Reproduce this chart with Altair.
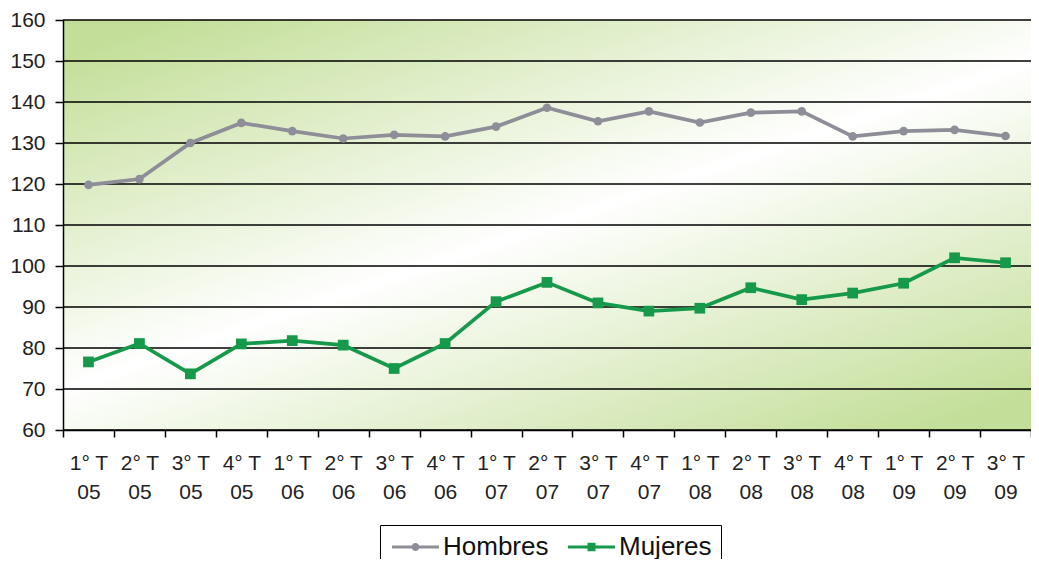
import altair as alt
import pandas as pd

quarters = ["1° T", "2° T", "3° T", "4° T"] * 4 + ["1° T", "2° T", "3° T"]
years = ["05"] * 4 + ["06"] * 4 + ["07"] * 4 + ["08"] * 4 + ["09"] * 3
hombres = [119.8, 121.2, 130.0, 134.9, 132.9, 131.1, 132.0, 131.6, 134.0, 138.6,
           135.3, 137.7, 135.0, 137.4, 137.7, 131.6, 132.9, 133.2, 131.7]
mujeres = [76.6, 81.1, 73.7, 81.0, 81.8, 80.7, 75.0, 81.1, 91.3, 96.0,
           91.0, 89.0, 89.7, 94.7, 91.8, 93.4, 95.8, 102.0, 100.8]
y_ticks = [60, 70, 80, 90, 100, 110, 120, 130, 140, 150, 160]
series = ["Hombres", "Mujeres"]
colors = ["#8e8e98", "#16994a"]

cats = [f"{q}|{y}" for q, y in zip(quarters, years)]
rows = []
for c, h, m in zip(cats, hombres, mujeres):
    rows.append({"cat": c, "serie": "Hombres", "valor": h})
    rows.append({"cat": c, "serie": "Mujeres", "valor": m})
df = pd.DataFrame(rows)
grid_df = pd.DataFrame({"valor": y_ticks})

W, H = 968, 410
FONT = "Liberation Sans"

xenc = alt.X(
    "cat:N",
    sort=cats,
    bandPosition=0.5,
    scale=alt.Scale(type="band", paddingInner=0, paddingOuter=0),
    axis=alt.Axis(
        title=None, labelAngle=0, tickBand="extent", labelExpr="split(datum.label, '|')",
        labelFontSize=21, labelColor="#222222", labelFont=FONT, labelLineHeight=29,
        labelPadding=15, tickSize=7, tickColor="#000000", tickWidth=1.5,
        domainColor="#000000", domainWidth=1.5, grid=False, zindex=2,
    ),
)
yscale = alt.Scale(domain=[60, 160], nice=False, zero=False)
yaxis = alt.Axis(
    title=None, values=y_ticks, labelFontSize=21, labelColor="#222222",
    labelFont=FONT, labelPadding=10, tickSize=8, tickColor="#000000", tickWidth=1.5,
    domainColor="#000000", domainWidth=1.5, grid=False, zindex=2,
)
yenc = alt.Y("valor:Q", scale=yscale, axis=yaxis)
cscale = alt.Scale(domain=series, range=colors)

bg = alt.Chart(pd.DataFrame({"a": [0]})).mark_rect(
    fill=alt.LinearGradient(
        gradient="linear", x1=0.1, y1=0, x2=0.9, y2=1,
        stops=[alt.GradientStop(offset=0, color="#c3de98"),
               alt.GradientStop(offset=0.5, color="#ffffff"),
               alt.GradientStop(offset=1, color="#c3de98")],
    )
).encode(x=alt.value(0), x2=alt.value(W), y=alt.value(0), y2=alt.value(H))

grid = alt.Chart(grid_df).mark_rule(color="#000000", strokeWidth=1.5).encode(
    y=alt.Y("valor:Q", scale=yscale, axis=yaxis)
)

lines = alt.Chart(df).mark_line(strokeWidth=3.7).encode(
    x=xenc, y=yenc, color=alt.Color("serie:N", scale=cscale, legend=None),
    detail="serie:N",
)

pts_h = alt.Chart(df).transform_filter(alt.datum.serie == "Hombres").mark_point(
    filled=True, opacity=1, shape="circle", size=75
).encode(x=xenc, y=yenc, color=alt.Color("serie:N", scale=cscale, legend=None))

pts_m = alt.Chart(df).transform_filter(alt.datum.serie == "Mujeres").mark_point(
    filled=True, opacity=1, shape="square", size=115
).encode(x=xenc, y=yenc, color=alt.Color("serie:N", scale=cscale, legend=None))

circ = ("M-1,-0.15 L3.7,-0.15 L3.7,0.15 L-1,0.15 Z "
        "M0.95,0 A0.4,0.4 0 1 1 1.75,0 A0.4,0.4 0 1 1 0.95,0 Z")
sq = ("M-1,-0.15 L3.7,-0.15 L3.7,0.15 L-1,0.15 Z "
      "M0.95,-0.42 L1.75,-0.42 L1.75,0.42 L0.95,0.42 Z")

legend_opts = dict(
    title=None, orient="none", direction="horizontal", legendX=317, legendY=505,
    labelFontSize=26, labelFont=FONT, labelColor="#111111", symbolSize=400,
    symbolStrokeWidth=0, columnPadding=16, labelOffset=28, padding=9,
    strokeColor="#000000", symbolOpacity=1,
)

leg = alt.Chart(df).mark_point(filled=True, size=0, strokeWidth=0).encode(
    x=xenc, y=yenc,
    color=alt.Color("serie:N", scale=cscale, legend=alt.Legend(**legend_opts)),
    shape=alt.Shape("serie:N", scale=alt.Scale(domain=series, range=[circ, sq]),
                    legend=alt.Legend(**legend_opts)),
)

chart = alt.layer(bg, grid, lines, pts_h, pts_m, leg).resolve_legend(
    color="independent", shape="independent"
).properties(
    width=W, height=H,
    autosize=alt.AutoSizeParams(type="none"),
    padding={"left": 55, "top": 12, "right": 0, "bottom": 129},
).configure_view(stroke=None)

chart.save("out.html", embed_options={"renderer": "svg", "actions": False})
